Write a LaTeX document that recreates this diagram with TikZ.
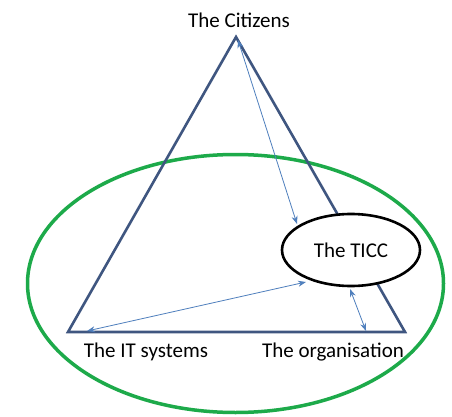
\documentclass[tikz,border=0pt]{standalone}
\usepackage{fontspec}
\setmainfont{Carlito}
\usetikzlibrary{shapes.geometric,arrows.meta}
\definecolor{tri}{HTML}{3F5680}
\definecolor{arr}{HTML}{4F7FBD}
\definecolor{grn}{HTML}{1DAA4A}
\tikzset{
  lbl/.style={font=\fontsize{21}{24}\selectfont, inner sep=0pt},
  link/.style={draw=arr, line width=0.8pt, {Stealth[length=8pt,width=6pt]}-{Stealth[length=8pt,width=6pt]}},
}
\begin{document}
\begin{tikzpicture}[x=1pt,y=-1pt]
\useasboundingbox (0,0) rectangle (452,417);
\fill[white] (0,0) rectangle (452,417);
% green ellipse
\draw[grn, line width=3.5pt] (235.5,283.5) ellipse [x radius=208, y radius=129];
% triangle
\coordinate (A) at (236,37);
\coordinate (L) at (68,332);
\coordinate (R) at (405,332);
\draw[tri, line width=2.6pt, line join=miter] (A) -- (L) -- (R) -- cycle;
% TICC
\node[ellipse, draw=black, fill=white, line width=2.6pt, minimum width=138pt, minimum height=72pt, lbl] (T) at (351,250) {The TICC};
% labels
\node[lbl] (cit) at (239,20) {The Citizens};
\node[lbl] (its) at (146,352) {The IT systems};
\node[lbl] (org) at (333,352) {The organisation};
% arrow end points
\coordinate (a1) at (238,40);
\coordinate (a2) at (297,224);
\coordinate (b1) at (87,331);
\coordinate (b2) at (306,282);
\coordinate (c1) at (350,289);
\coordinate (c2) at (366,331);
\draw[link] (a1) -- (a2);
\draw[link] (b1) -- (b2);
\draw[link] (c1) -- (c2);
\end{tikzpicture}
\end{document}
